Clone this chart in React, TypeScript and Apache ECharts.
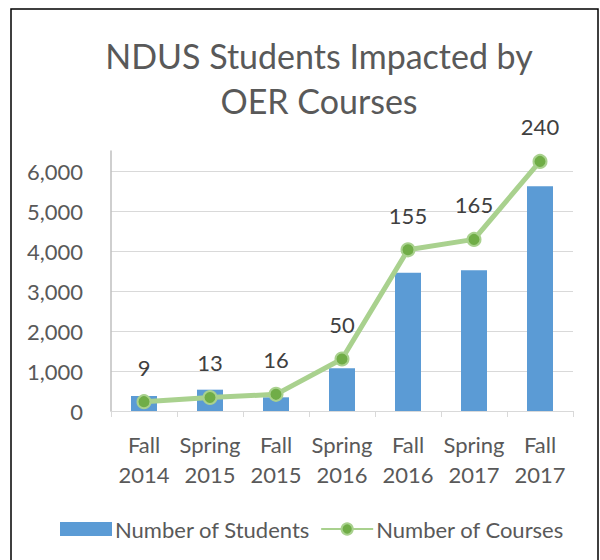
import React, { useEffect, useRef } from "react";
import * as echarts from "echarts";

const categories = ["Fall\n2014", "Spring\n2015", "Fall\n2015", "Spring\n2016", "Fall\n2016", "Spring\n2017", "Fall\n2017"];
const students = [375, 533, 342, 1067, 3458, 3517, 5617];
const courses = [9, 13, 16, 50, 155, 165, 240];

const FONT = "Lato, 'Open Sans', sans-serif";
const TEXT = "#595959";

export default function App() {
  const ref = useRef<HTMLDivElement>(null);
  useEffect(() => {
    if (!ref.current) return;
    const chart = echarts.init(ref.current, null, { renderer: "svg" });
    chart.setOption({
      animation: false,
      backgroundColor: "#ffffff",
      textStyle: { fontFamily: FONT },
      title: {
        text: "NDUS Students Impacted by\nOER Courses",
        left: 314,
        textAlign: "center",
        top: 28,
        textStyle: { fontFamily: FONT, fontSize: 34, fontWeight: "normal", color: TEXT, lineHeight: 45 },
      },
      graphic: [
        {
          type: "rect",
          shape: { x: 11, y: 9, width: 587, height: 560 },
          style: { fill: "none", stroke: "#000000", lineWidth: 1.5 },
          silent: true,
        },
      ],
      legend: {
        top: 513,
        left: 55,
        itemGap: 10,
        itemWidth: 52,
        itemHeight: 14,
        textStyle: { fontFamily: FONT, fontSize: 22, color: TEXT, padding: [0, 0, 0, -2] },
        data: [
          { name: "Number of Students", icon: "rect" },
          { name: "Number of Courses" },
        ],
      },
      grid: { left: 111, right: 27, top: 151, bottom: 149, containLabel: false },
      xAxis: {
        type: "category",
        data: categories,
        axisLine: { lineStyle: { color: "#d9d9d9", width: 1 } },
        axisTick: { show: true, alignWithLabel: false, length: 6, lineStyle: { color: "#d9d9d9" } },
        axisLabel: { interval: 0, color: TEXT, fontFamily: FONT, fontSize: 22, lineHeight: 30, margin: 18 },
      },
      yAxis: [
        {
          type: "value",
          min: 0,
          max: 6500,
          interval: 1000,
          axisLine: { show: true, lineStyle: { color: "#bfbfbf", width: 1.5 } },
          axisTick: { show: false },
          axisLabel: {
            showMaxLabel: false,
            color: TEXT,
            fontFamily: FONT,
            fontSize: 22,
            margin: 28,
            formatter: (v: number) => (v > 6000 ? "" : v.toLocaleString("en-US")),
          },
          splitLine: { showMaxLine: false, lineStyle: { color: "#d9d9d9", width: 1 } },
        },
        {
          type: "value",
          min: 0,
          max: 250,
          show: false,
          splitLine: { show: false },
        },
      ],
      series: [
        {
          name: "Number of Students",
          type: "bar",
          data: students,
          barWidth: 26,
          itemStyle: { color: "#5b9bd5" },
          yAxisIndex: 0,
        },
        {
          name: "Number of Courses",
          type: "line",
          data: courses,
          yAxisIndex: 1,
          clip: false,
          symbol: "circle",
          symbolSize: 13,
          lineStyle: { color: "#a9d18e", width: 5 },
          itemStyle: { color: "#70ad47", borderColor: "#a9d18e", borderWidth: 2 },
          label: {
            show: true,
            position: "top",
            distance: 16,
            color: "#404040",
            fontFamily: FONT,
            fontSize: 22,
          },
          z: 5,
        },
      ],
    });
    return () => chart.dispose();
  }, []);
  return <div ref={ref} style={{ position: "absolute", left: 0, top: 0, width: 600, height: 560 }} />;
}
